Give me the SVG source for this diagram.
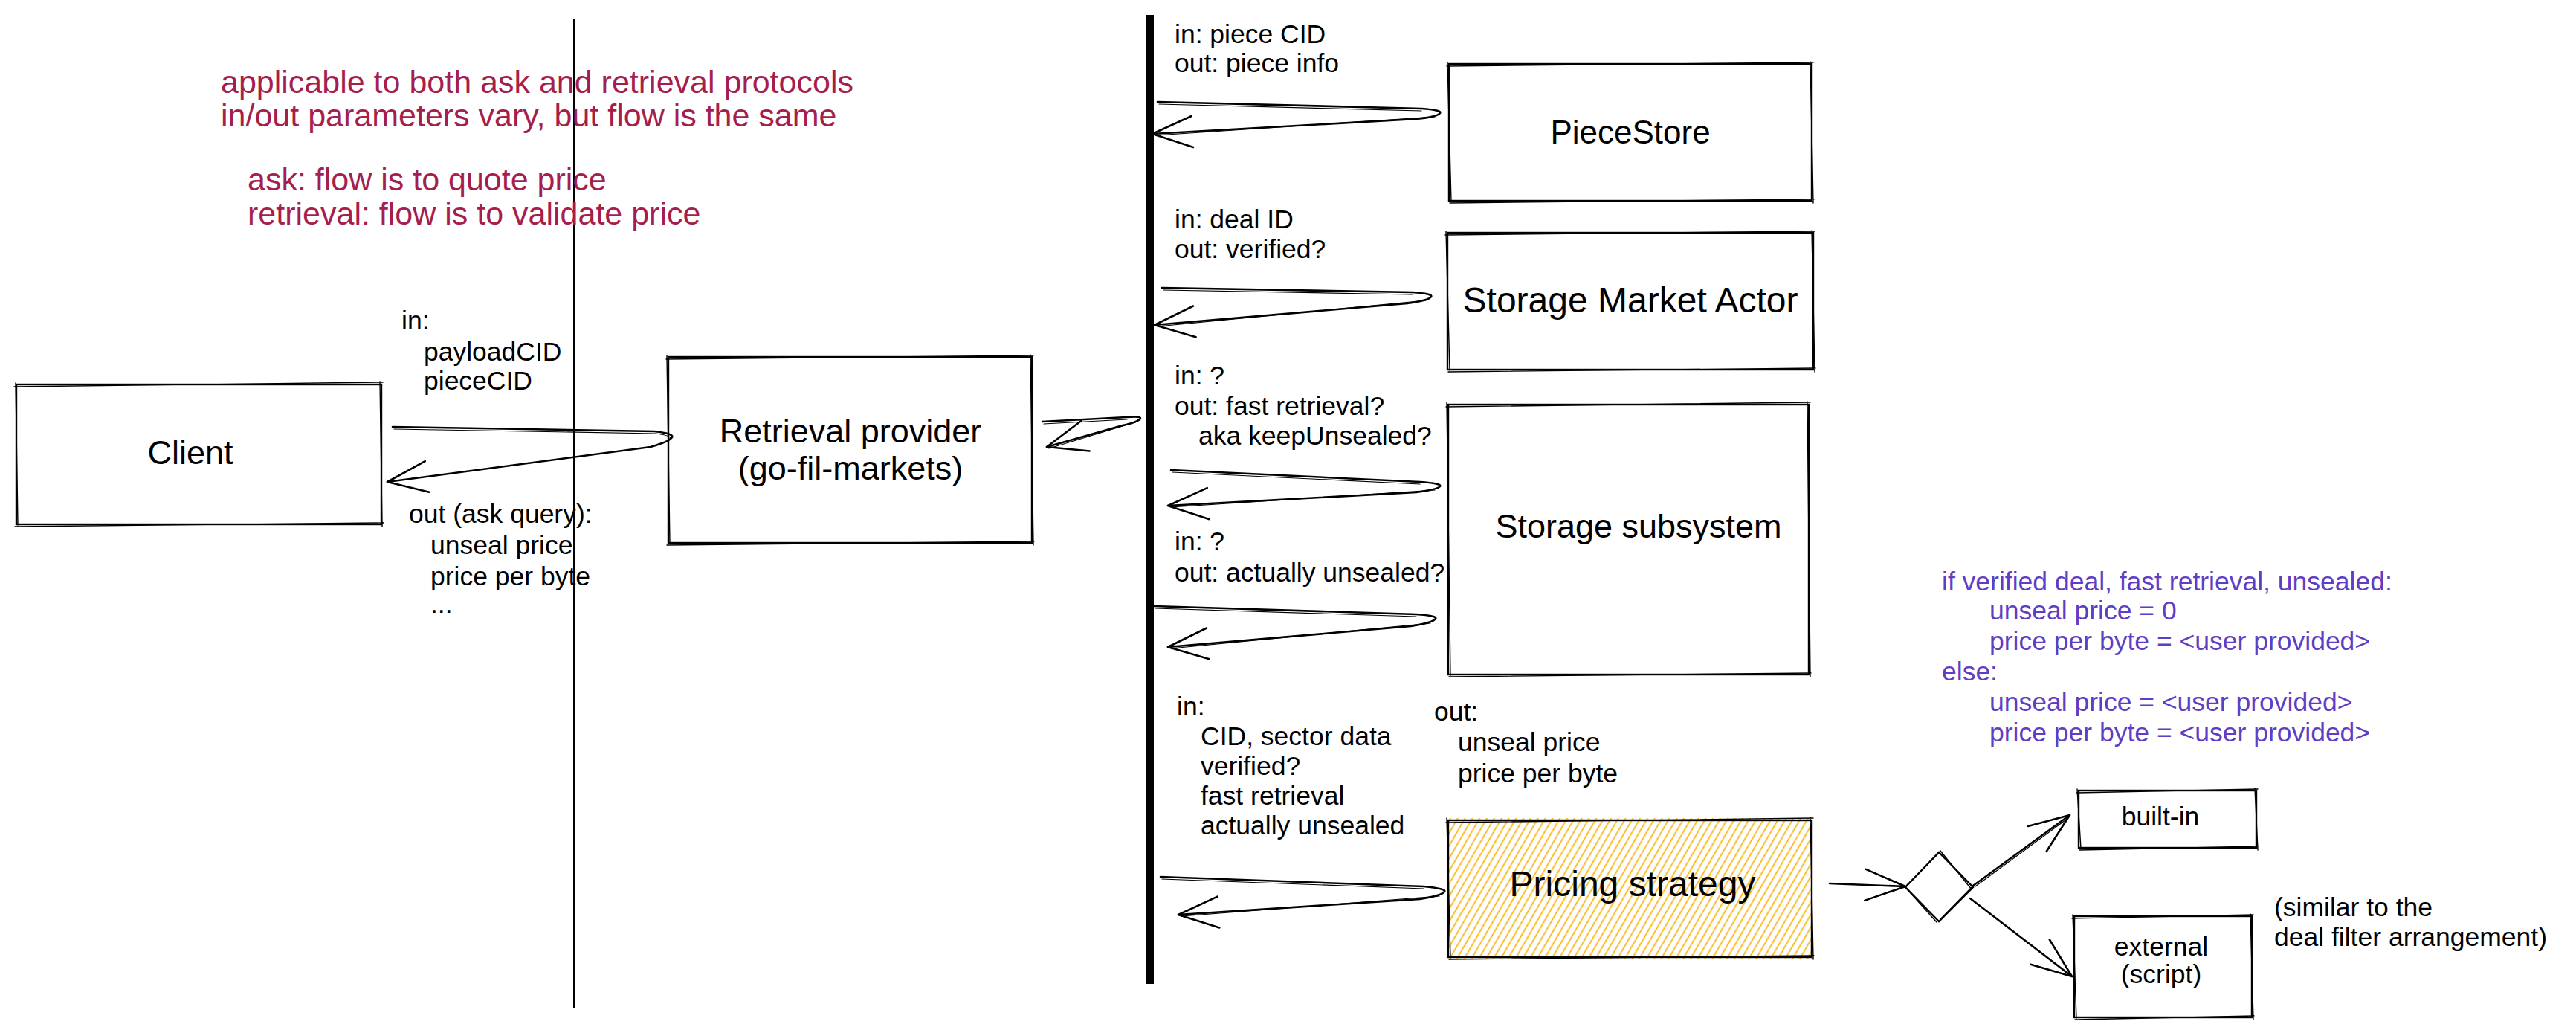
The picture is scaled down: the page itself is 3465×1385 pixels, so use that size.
<svg xmlns="http://www.w3.org/2000/svg" width="3465" height="1385" viewBox="0 0 3465 1385">
<style>
text{font-family:"Liberation Sans",Arial,sans-serif}
.t{font-size:35.5px;fill:#000}
.title{font-size:45px;fill:#000;text-anchor:middle}
.red{font-size:43px;fill:#a61e4d}
.pur{font-size:35.5px;fill:#5f3dc4}
.box{fill:none;stroke:#000;stroke-width:2.4;stroke-linecap:round}
.box2{fill:none;stroke:#000;stroke-width:1.4;stroke-linecap:round}
.conn{fill:none;stroke:#000;stroke-width:2.6;stroke-linecap:round;stroke-linejoin:round}
.conn2{fill:none;stroke:#000;stroke-width:1.2;stroke-linecap:round;stroke-linejoin:round}
</style>
<defs>
<marker id="ah" viewBox="-70 -35 80 70" refX="0" refY="0" markerWidth="80" markerHeight="70" orient="auto" markerUnits="userSpaceOnUse">
<path d="M-54,-21 L0,0 L-54,21" fill="none" stroke="#000" stroke-width="2.6" stroke-linecap="round" stroke-linejoin="round"/>
</marker>
<pattern id="hach" patternUnits="userSpaceOnUse" width="8.5" height="8.5" patternTransform="rotate(30)">
<line x1="4.25" y1="0" x2="4.25" y2="8.5" stroke="#fab005" stroke-width="1.7"/>
</pattern>
</defs>
<rect x="0" y="0" width="3465" height="1385" fill="#fff"/>

<!-- separators -->
<g id="separators">
<line x1="772" y1="25" x2="772" y2="1356" stroke="#000" stroke-width="2"/>
<line x1="1546.5" y1="20" x2="1546.5" y2="1323" stroke="#000" stroke-width="11"/>
</g>

<!-- notes -->
<g id="notes">
<text class="red" x="297" y="125">applicable to both ask and retrieval protocols</text>
<text class="red" x="297" y="170">in/out parameters vary, but flow is the same</text>
<text class="red" x="333" y="256">ask: flow is to quote price</text>
<text class="red" x="333" y="302">retrieval: flow is to validate price</text>

<text class="t" x="540" y="443">in:</text>
<text class="t" x="570" y="485">payloadCID</text>
<text class="t" x="570" y="524">pieceCID</text>
<text class="t" x="550" y="703">out (ask query):</text>
<text class="t" x="579" y="745">unseal price</text>
<text class="t" x="579" y="787">price per byte</text>
<text class="t" x="579" y="824">...</text>

<text class="t" x="1580" y="58">in: piece CID</text>
<text class="t" x="1580" y="97">out: piece info</text>
<text class="t" x="1580" y="307">in: deal ID</text>
<text class="t" x="1580" y="347">out: verified?</text>
<text class="t" x="1580" y="517">in: ?</text>
<text class="t" x="1580" y="558">out: fast retrieval?</text>
<text class="t" x="1612" y="598">aka keepUnsealed?</text>
<text class="t" x="1580" y="740">in: ?</text>
<text class="t" x="1580" y="782">out: actually unsealed?</text>
<text class="t" x="1583" y="962">in:</text>
<text class="t" x="1615" y="1002">CID, sector data</text>
<text class="t" x="1615" y="1042">verified?</text>
<text class="t" x="1615" y="1082">fast retrieval</text>
<text class="t" x="1615" y="1122">actually unsealed</text>
<text class="t" x="1929" y="969">out:</text>
<text class="t" x="1961" y="1010">unseal price</text>
<text class="t" x="1961" y="1052">price per byte</text>

<text class="pur" x="2612" y="794">if verified deal, fast retrieval, unsealed:</text>
<text class="pur" x="2676" y="833">unseal price = 0</text>
<text class="pur" x="2676" y="874">price per byte = &lt;user provided&gt;</text>
<text class="pur" x="2612" y="915">else:</text>
<text class="pur" x="2676" y="956">unseal price = &lt;user provided&gt;</text>
<text class="pur" x="2676" y="997">price per byte = &lt;user provided&gt;</text>

<text class="t" x="3059" y="1232">(similar to the</text>
<text class="t" x="3059" y="1272">deal filter arrangement)</text>
</g>

<!-- nodes -->
<g id="client">
<rect class="box" x="22" y="517" width="491" height="188"/>
<path class="box2" d="M19,520 L515,514 M511,513 L514,708 M516,703 L20,708 M24,706 L21,515"/>
<text class="title" x="256" y="624" font-size="44">Client</text>
</g>

<g id="retrieval-provider">
<rect class="box" x="899" y="480" width="489" height="250"/>
<path class="box2" d="M896,483 L1390,478 M1386,477 L1390,733 M1391,728 L897,733 M901,731 L897,478"/>
<text class="title" x="1144" y="595">Retrieval provider</text>
<text class="title" x="1144" y="645">(go-fil-markets)</text>
</g>

<g id="piecestore">
<rect class="box" x="1949" y="86" width="488" height="184"/>
<path class="box2" d="M1946,89 L2439,84 M2435,83 L2439,273 M2440,268 L1950,273 M1952,271 L1947,84"/>
<text class="title" x="2193" y="193" style="font-size:44px">PieceStore</text>
</g>

<g id="storage-market-actor">
<rect class="box" x="1947" y="313" width="492" height="184"/>
<path class="box2" d="M1944,316 L2441,311 M2437,310 L2441,500 M2442,495 L1948,500 M1950,498 L1945,311"/>
<text class="title" x="2193" y="420" style="font-size:48px">Storage Market Actor</text>
</g>

<g id="storage-subsystem">
<rect class="box" x="1948" y="544" width="485" height="363"/>
<path class="box2" d="M1945,547 L2435,541 M2431,540 L2435,910 M2436,905 L1949,910 M1951,908 L1946,541"/>
<text class="title" x="2204" y="723" style="font-size:45px">Storage subsystem</text>
</g>

<g id="pricing-strategy">
<rect x="1948" y="1100" width="489" height="190" fill="url(#hach)"/>
<rect class="box" x="1948" y="1103" width="489" height="184"/>
<path class="box2" d="M1945,1106 L2439,1100 M2435,1099 L2439,1290 M2440,1285 L1949,1290 M1951,1288 L1946,1100"/>
<text class="title" x="2196" y="1205" style="font-size:48px">Pricing strategy</text>
</g>

<g id="decision">
<path class="box" d="M2563,1193 L2608,1146 L2654,1193 L2608,1239 Z"/>
<path class="box2" d="M2565,1190 L2606,1149 M2610,1144 L2652,1196 M2655,1190 L2610,1236 M2605,1240 L2561,1191"/>
</g>

<g id="built-in">
<rect class="box" x="2796" y="1063" width="239" height="77"/>
<path class="box2" d="M2793,1066 L3037,1061 M3033,1060 L3037,1143 M3038,1138 L2797,1143 M2799,1141 L2794,1061"/>
<text class="t" x="2906" y="1110" text-anchor="middle">built-in</text>
</g>

<g id="external">
<rect class="box" x="2790" y="1232" width="239" height="136"/>
<path class="box2" d="M2787,1235 L3031,1230 M3027,1229 L3031,1371 M3032,1366 L2791,1371 M2793,1369 L2788,1230"/>
<text class="t" x="2907" y="1285" text-anchor="middle">external</text>
<text class="t" x="2907" y="1322" text-anchor="middle">(script)</text>
</g>

<!-- connectors -->
<g id="connectors">
<path class="conn" marker-end="url(#ah)" d="M528,574 L880,580 Q907,583 904,588 Q900,594 875,601 L521,648"/>
<path class="conn2" d="M530,577 L882,583 Q905,586 901,590"/>
<path class="conn" marker-end="url(#ah)" d="M1402,567 L1515,561 Q1538,559 1533,564 Q1528,568 1510,572 L1408,601"/>
<path class="conn2" d="M1404,570 L1516,564 M1530,567 L1411,603"/>
<path class="conn" marker-end="url(#ah)" d="M1557,137 L1912,146 Q1940,148 1937,152 Q1934,157 1905,160 L1550,180"/>
<path class="conn2" d="M1559,140 L1912,149 M1930,157 L1555,182"/>
<path class="conn" marker-end="url(#ah)" d="M1563,387 L1900,393 Q1928,395 1925,399 Q1922,404 1893,408 L1553,437"/>
<path class="conn2" d="M1565,390 L1900,396 M1918,404 L1557,439"/>
<path class="conn" marker-end="url(#ah)" d="M1575,632 L1910,648 Q1940,650 1937,654 Q1934,658 1905,662 L1571,680"/>
<path class="conn2" d="M1577,635 L1910,651 M1930,659 L1575,682"/>
<path class="conn" marker-end="url(#ah)" d="M1552,815 L1905,826 Q1934,828 1931,832 Q1928,837 1898,842 L1571,870"/>
<path class="conn2" d="M1554,818 L1905,829 M1924,838 L1575,872"/>
<path class="conn" marker-end="url(#ah)" d="M1561,1179 L1915,1192 Q1946,1195 1943,1199 Q1940,1204 1910,1209 L1585,1230"/>
<path class="conn2" d="M1563,1182 L1915,1195 M1936,1205 L1589,1232"/>
<path class="conn" marker-end="url(#ah)" d="M2461,1188 L2563,1192"/>
<path class="conn" marker-end="url(#ah)" d="M2654,1191 L2784,1096"/>
<path class="conn2" d="M2657,1192 L2782,1100"/>
<path class="conn" marker-end="url(#ah)" d="M2650,1208 L2787,1313"/>
</g>
</svg>
